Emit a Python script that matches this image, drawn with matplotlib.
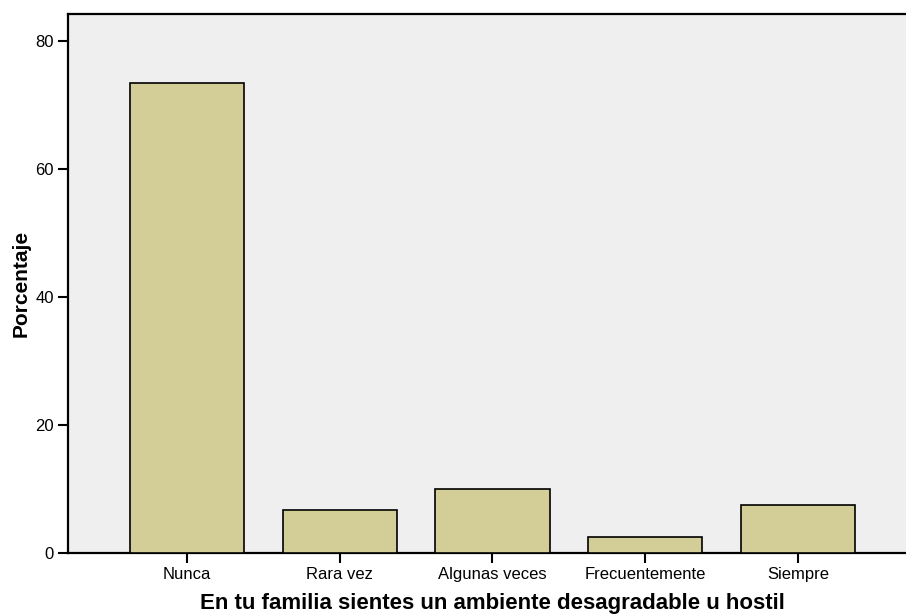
import matplotlib
matplotlib.use("Agg")
import matplotlib.pyplot as plt

categories = ["Nunca", "Rara vez", "Algunas veces", "Frecuentemente", "Siempre"]
percentages = [73.4, 6.7, 10.0, 2.5, 7.5]
yticks = [0, 20, 40, 60, 80]

plt.rcParams['font.family'] = ['Liberation Sans', 'DejaVu Sans']

fig = plt.figure(figsize=(9.06, 6.15), dpi=100)
ax = fig.add_axes([68/906, 62/615, (917-68)/906, (553-14)/615])
ax.set_facecolor('#EFEFEF')

x = range(len(categories))
ax.bar(x, percentages, width=0.75, color='#D3CE97', edgecolor='black', linewidth=1.2, zorder=3)

ax.set_xlim(-0.78, 4.78)
ax.set_ylim(0, 84.2)
ax.set_xticks(list(x))
ax.set_xticklabels(categories, fontsize=12)
ax.set_yticks(yticks)
ax.set_yticklabels([str(v) for v in yticks], fontsize=12)

for s in ['left', 'bottom', 'top', 'right']:
    ax.spines[s].set_linewidth(1.6)
    ax.spines[s].set_color('black')
ax.tick_params(axis='both', direction='out', length=7, width=1.5, colors='black', pad=3)

ax.set_xlabel("En tu familia sientes un ambiente desagradable u hostil", fontsize=16, fontweight='bold', labelpad=8)
ax.set_ylabel("Porcentaje", fontsize=15, fontweight='bold', labelpad=3.5)

fig.savefig("out.png", dpi=100)
